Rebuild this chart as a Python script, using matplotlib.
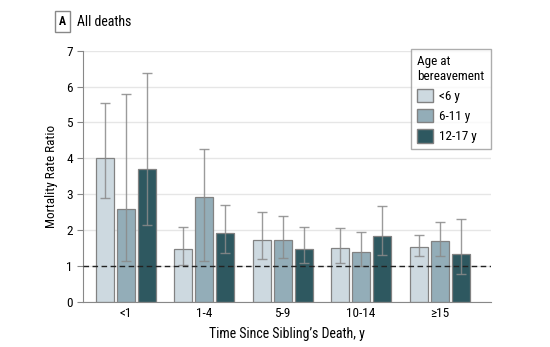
import matplotlib.pyplot as plt
import numpy as np
from matplotlib.patches import Patch

plt.rcParams['font.family'] = ['Roboto Condensed', 'Liberation Sans Narrow', 'Liberation Sans', 'DejaVu Sans']

groups = ['<1', '1-4', '5-9', '10-14', '≥15']
ages = ['<6 y', '6-11 y', '12-17 y']
colors = ['#cdd9e0', '#93adb8', '#2e5860']

rr_young = [4.00, 1.47, 1.71, 1.50, 1.52]
lo_young = [2.88, 1.02, 1.18, 1.09, 1.26]
hi_young = [5.53, 2.09, 2.50, 2.06, 1.85]

rr_mid = [2.58, 2.91, 1.71, 1.39, 1.68]
lo_mid = [1.13, 1.14, 1.22, 0.99, 1.26]
hi_mid = [5.79, 4.25, 2.40, 1.95, 2.21]

rr_old = [3.69, 1.92, 1.48, 1.84, 1.34]
lo_old = [2.13, 1.37, 1.08, 1.29, 0.76]
hi_old = [6.38, 2.71, 2.08, 2.67, 2.31]

series = [(rr_young, lo_young, hi_young), (rr_mid, lo_mid, hi_mid), (rr_old, lo_old, hi_old)]

fig = plt.figure(figsize=(5.5, 3.47), dpi=100)
ax = fig.add_axes([0.150, 0.1306, 0.742, 0.7234])

x = np.arange(len(groups))
w = 0.23
step = 0.267
for i, (rr, lo, hi) in enumerate(series):
    pos = x + (i - 1) * step
    rr = np.array(rr)
    ax.bar(pos, rr, w, color=colors[i], edgecolor='#828282', linewidth=0.9, zorder=2)
    yerr = [rr - np.array(lo), np.array(hi) - rr]
    ax.errorbar(pos, rr, yerr=yerr, fmt='none', ecolor='#8a8a8a', elinewidth=1.0,
                capsize=3.5, capthick=1.0, alpha=0.85, zorder=3)

ax.axhline(1, color='#222222', linestyle=(0, (4, 2.5)), linewidth=1.0, zorder=4)

ax.set_xlim(-0.55, 4.65)
ax.set_ylim(0, 7)
ax.set_yticks(range(0, 8))
ax.yaxis.grid(True, color='#e6e6e6', linewidth=1.0, zorder=0)
ax.set_axisbelow(True)
ax.set_xticks(x)
ax.set_xticklabels(groups, fontsize=9.5)
ax.tick_params(axis='x', length=0, pad=4)
ax.tick_params(axis='y', length=4, color='#888888', labelsize=9.5, pad=3)
for s in ['top', 'right']:
    ax.spines[s].set_visible(False)
for s in ['left', 'bottom']:
    ax.spines[s].set_color('#888888')
ax.set_ylabel('Mortality Rate Ratio', fontsize=9.5, labelpad=6)
ax.set_xlabel("Time Since Sibling’s Death, y", fontsize=10, labelpad=5)

handles = [Patch(facecolor=c, edgecolor='#828282') for c in colors]
leg = ax.legend(handles, ages, title='Age at\nbereavement', loc='upper right',
                bbox_to_anchor=(1.0, 1.007), borderaxespad=0, fontsize=9.5, title_fontsize=9.5,
                frameon=True, fancybox=False, edgecolor='#999999',
                handlelength=1.2, handleheight=1.2, handletextpad=0.4,
                labelspacing=0.45, borderpad=0.45)
leg._legend_box.align = 'left'
leg.get_frame().set_linewidth(1.0)

fig.text(0.114, 0.938, 'A', fontsize=8.5, fontweight='bold', ha='center', va='center',
         bbox=dict(boxstyle='square,pad=0.35', facecolor='white', edgecolor='#888888', linewidth=1.0))
fig.text(0.140, 0.938, 'All deaths', fontsize=10, ha='left', va='center')

fig.savefig('out.png', dpi=100)
